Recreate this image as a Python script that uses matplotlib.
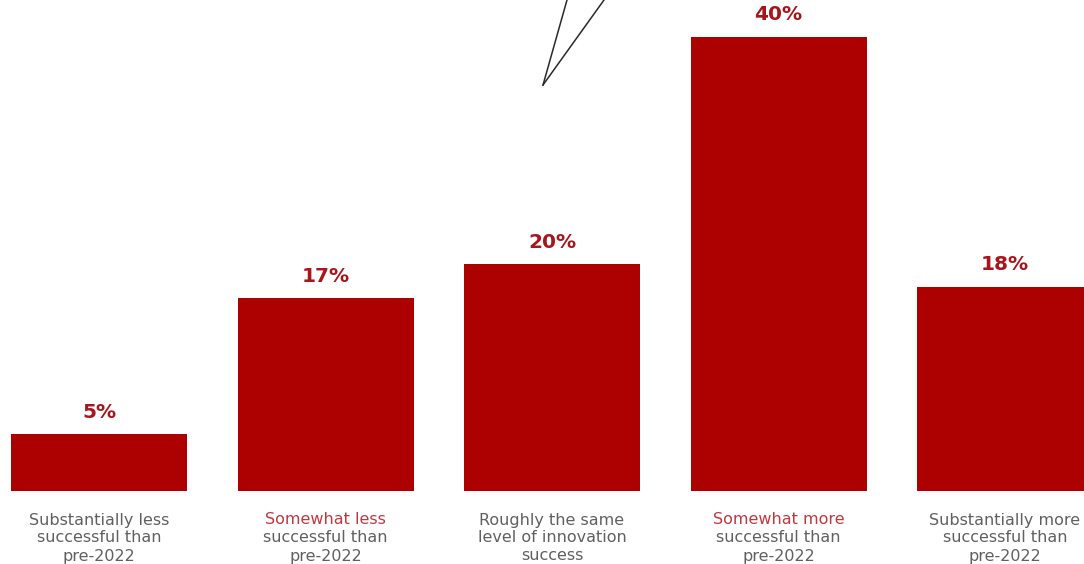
import matplotlib.pyplot as plt
from matplotlib.transforms import blended_transform_factory
from matplotlib.lines import Line2D

# Share of respondents by change in innovation success
categories = [
    ["Substantially less", "successful than", "pre-2022"],
    ["Somewhat less", "successful than", "pre-2022"],
    ["Roughly the same", "level of innovation", "success"],
    ["Somewhat more", "successful than", "pre-2022"],
    ["Substantially more", "successful than", "pre-2022"],
]
values = [5, 17, 20, 40, 18]
highlight = [False, True, False, True, False]

bar_color = "#ad0000"
value_color = "#a8151b"
label_gray = "#606060"
label_red = "#c0393e"

W, H = 1084, 564
fig = plt.figure(figsize=(W / 100, H / 100), dpi=100)
fig.patch.set_facecolor("white")

# axes span the full width, baseline at 491 px from the top
ax = fig.add_axes([0, (H - 491) / H, 1, 491 / H])
step = 226.5
ax.set_xlim(-99 / step, (W - 99) / step)
ax.set_ylim(0, 491 / 11.35)
ax.axis("off")

xs = list(range(len(values)))
ax.bar(xs, values, width=176 / step, color=bar_color, zorder=2)

for x, v in zip(xs, values):
    ax.annotate(f"{v}%", (x, v), xytext=(0, 9), textcoords="offset points",
                ha="center", va="bottom", fontsize=14.5, fontweight="bold",
                color=value_color, family="DejaVu Sans")

# category labels under the bars, one text per line
trans = blended_transform_factory(ax.transData, fig.transFigure)
for x, lines, hl in zip(xs, categories, highlight):
    for i, line in enumerate(lines):
        c = label_red if (hl and i == 0) else label_gray
        y_px = 520 + 18 * i
        ax.text(x, 1 - y_px / H, line, transform=trans, ha="center", va="center",
                fontsize=11.5, color=c, family="DejaVu Sans")

# callout pointer coming from the top
fig.add_artist(Line2D([567 / W, 543 / W], [1, 1 - 85 / H], color="#2a2a2a", lw=1.1))
fig.add_artist(Line2D([604 / W, 543 / W], [1, 1 - 85 / H], color="#2a2a2a", lw=1.1))

fig.savefig("out.png", dpi=100, facecolor="white")
